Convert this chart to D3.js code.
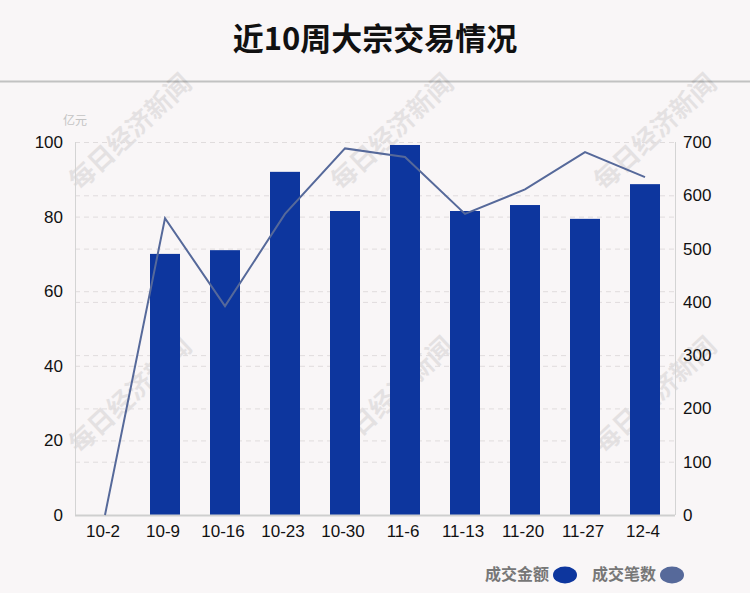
<!DOCTYPE html>
<html><head><meta charset="utf-8">
<script src="https://cdn.jsdelivr.net/npm/d3@7"></script>
<style>body{margin:0;background:#f9f6f7;}svg{display:block;}</style>
</head><body>
<script>
const categories = ["10-2","10-9","10-16","10-23","10-30","11-6","11-13","11-20","11-27","12-4"];
const amounts = [0, 70.0, 71.0, 92.0, 81.5, 99.2, 81.5, 83.1, 79.4, 88.7];
const counts = [0, 557, 392, 565, 688, 672, 565, 611, 681, 634];
const leftTicks = [0,20,40,60,80,100];
const rightTicks = [0,100,200,300,400,500,600,700];

const W=750,H=593;
const svg=d3.select("body").append("svg").attr("width",W).attr("height",H);
svg.append("rect").attr("width",W).attr("height",H).attr("fill","#f9f6f7");
const font="'Liberation Sans', Arial, 'Noto Sans CJK SC', sans-serif";
const cjk="'Noto Sans CJK SC', sans-serif";

svg.append("text").attr("x",375).attr("y",50).attr("text-anchor","middle")
 .attr("font-family",cjk).attr("font-weight","bold").attr("font-size",31).attr("fill","#111").text("近10周大宗交易情况");
svg.append("line").attr("x1",0).attr("x2",W).attr("y1",81.5).attr("y2",81.5).attr("stroke","#c2c2c2").attr("stroke-width",2);

const L=75,R=675,T=142,B=515;
const x=d3.scaleBand().domain(categories).range([L,R]).paddingInner(0.5).paddingOuter(0.25);
const yL=d3.scaleLinear().domain([0,100]).range([B,T]);
const yR=d3.scaleLinear().domain([0,700]).range([B,T]);

// watermarks
const wm=[[130,132],[392,132],[655,132],[130,395],[392,395],[655,395]];
svg.append("g").selectAll("text").data(wm).join("text")
 .attr("transform",d=>`translate(${d[0]},${d[1]}) rotate(-43)`)
 .attr("text-anchor","middle").attr("dy","0.35em")
 .attr("font-family","'Noto Sans CJK SC',sans-serif").attr("font-weight","bold")
 .attr("font-size",26).attr("fill","#000").attr("opacity",0.08).text("每日经济新闻");

// grid
const g=svg.append("g");
const gridYs=[...new Set([...leftTicks.map(yL),...rightTicks.map(yR)].map(v=>Math.round(v*10)/10))].filter(v=>v<B-1);
g.selectAll("line.grid").data(gridYs).join("line").attr("class","grid")
 .attr("x1",L).attr("x2",R).attr("y1",d=>d+0.5).attr("y2",d=>d+0.5)
 .attr("stroke","#e0dcdd").attr("stroke-dasharray","5,4").attr("stroke-width",1);

// axes lines
g.append("line").attr("x1",L+0.5).attr("x2",L+0.5).attr("y1",T).attr("y2",B).attr("stroke","#d4d4d4");
g.append("line").attr("x1",R+0.5).attr("x2",R+0.5).attr("y1",T).attr("y2",B).attr("stroke","#d4d4d4");

// bars
g.selectAll("rect.bar").data(categories.map((c,i)=>({c,v:amounts[i]}))).join("rect").attr("class","bar")
 .attr("x",d=>x(d.c)).attr("width",x.bandwidth()).attr("y",d=>yL(d.v)).attr("height",d=>B-yL(d.v)).attr("fill","#0d369e");

g.append("line").attr("x1",L).attr("x2",R).attr("y1",B+0.5).attr("y2",B+0.5).attr("stroke","#cfcfcf").attr("stroke-width",2);

// line
const line=d3.line().x((d,i)=>x(categories[i])+x.bandwidth()/2).y(d=>yR(d));
g.append("path").datum(counts).attr("d",line).attr("fill","none").attr("stroke","#56699a").attr("stroke-width",2);

// tick labels
const axL=d3.axisLeft(yL).tickValues(leftTicks).tickSize(0).tickPadding(12);
const gl=svg.append("g").attr("transform",`translate(${L},0)`).call(axL);
const axR=d3.axisRight(yR).tickValues(rightTicks).tickSize(0).tickPadding(8);
const gr=svg.append("g").attr("transform",`translate(${R},0)`).call(axR);
const axB=d3.axisBottom(x).tickSize(0).tickPadding(10);
const gb=svg.append("g").attr("transform",`translate(-2,${B})`).call(axB);
[gl,gr,gb].forEach(a=>{a.select(".domain").remove();a.attr("font-family",font).attr("font-size",17);a.selectAll("text").attr("fill","#111");});

svg.append("text").attr("x",75).attr("y",125).attr("text-anchor","middle").attr("font-family",cjk)
 .attr("font-size",12).attr("fill","#c4c4c4").text("亿元");

// legend
const leg=[{t:"成交金额",c:"#0d369e",x:485,cx:565},{t:"成交笔数",c:"#56699a",x:592,cx:672}];
const lg=svg.append("g");
lg.selectAll("text").data(leg).join("text").attr("x",d=>d.x).attr("y",580).attr("font-family",cjk)
 .attr("font-weight","bold").attr("font-size",16).attr("fill","#777").text(d=>d.t);
lg.selectAll("ellipse").data(leg).join("ellipse").attr("cx",d=>d.cx).attr("cy",575).attr("rx",12).attr("ry",8.5).attr("fill",d=>d.c);
</script>
</body></html>
